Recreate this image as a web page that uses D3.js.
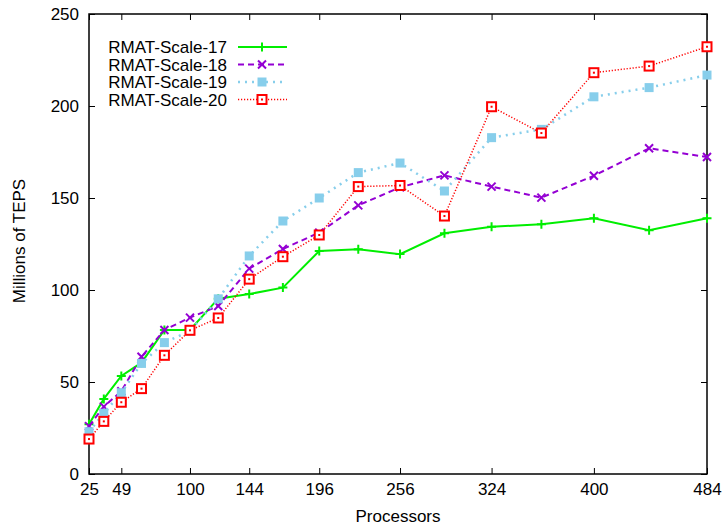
<!DOCTYPE html>
<html><head><meta charset="utf-8">
<script src="https://cdn.jsdelivr.net/npm/d3@7"></script>
<style>body{margin:0;background:#fff}text{font-family:"Liberation Sans",Arial,sans-serif}</style>
</head><body><svg id="c" width="723" height="527"></svg>
<script>
const processors = [25,36,49,64,81,100,121,144,169,196,225,256,289,324,361,400,441,484];
const xTicks = [25,49,100,144,196,256,324,400,484];
const yTicks = [0,50,100,150,200,250];
const seriesNames = ["RMAT-Scale-17","RMAT-Scale-18","RMAT-Scale-19","RMAT-Scale-20"];
const scale17 = [27,40.8,53.3,60.5,78.3,78.3,95.3,97.8,101.3,121.2,122.1,119.5,130.8,134.4,135.7,139,132.5,139];
const scale18 = [26,36.6,45,63.7,78.3,85,91.3,111.6,122.3,131.2,146,155.8,162.3,156.2,150.2,162.1,177,172.3];
const scale19 = [23,33,44.2,60.1,71.4,77.7,95.2,118.5,137.5,150,163.8,169,153.8,182.8,187.3,205,210,216.8];
const scale20 = [19,28.6,39,46.4,64.5,78.1,84.8,105.9,118.1,129.9,156.2,156.8,140.2,199.6,185.3,218.1,221.7,232.2];

const svg = d3.select("#c");
const L=89,R=707,T=14,B=474;
const FS = 17;
const x = d3.scaleLinear().domain([25,484]).range([L,R]);
const y = d3.scaleLinear().domain([0,250]).range([B,T]);

const styles = [
 {color:"#00ee00", dash:null, w:2, marker:"plus"},
 {color:"#9400d3", dash:"6,4", w:2, marker:"cross"},
 {color:"#87ceeb", dash:"2,5", w:2.5, marker:"fbox"},
 {color:"#ff0000", dash:"1.2,1.8", w:1.5, marker:"obox"}
];
const data = [scale17,scale18,scale19,scale20];

const g = svg.append("g");
g.append("g").attr("transform",`translate(0,${B})`)
 .call(d3.axisBottom(x).tickValues(xTicks).tickSize(-6).tickPadding(9).tickFormat(d3.format("d")));
g.append("g").attr("transform",`translate(0,${T})`)
 .call(d3.axisTop(x).tickValues(xTicks).tickSize(-6).tickFormat(""));
g.append("g").attr("transform",`translate(${L},0)`)
 .call(d3.axisLeft(y).tickValues(yTicks).tickSize(-6).tickPadding(10));
g.append("g").attr("transform",`translate(${R},0)`)
 .call(d3.axisRight(y).tickValues(yTicks).tickSize(-6).tickFormat(""));
g.selectAll(".domain").remove();
g.selectAll(".tick line").attr("stroke","#000").attr("stroke-width",1);
g.selectAll(".tick text").attr("font-size",FS).attr("fill","#000").style("font-family","Liberation Sans, Arial, sans-serif");
svg.append("rect").attr("x",L).attr("y",T).attr("width",R-L).attr("height",B-T)
 .attr("fill","none").attr("stroke","#000").attr("stroke-width",1.5);

svg.append("text").attr("x",(L+R)/2).attr("y",522).attr("text-anchor","middle").attr("font-size",FS).text("Processors");
svg.append("text").attr("transform","translate(25,241) rotate(-90)").attr("text-anchor","middle").attr("font-size",FS).text("Millions of TEPS");

function marker(sel, type, color){
  if(type==="plus"){
    sel.append("path").attr("d","M-4.5,0H4.5M0,-4.5V4.5").attr("stroke",color).attr("stroke-width",2).attr("fill","none");
  } else if(type==="cross"){
    sel.append("path").attr("d","M-4,-4L4,4M-4,4L4,-4").attr("stroke",color).attr("stroke-width",2).attr("fill","none");
  } else if(type==="fbox"){
    sel.append("rect").attr("x",-4.5).attr("y",-4.5).attr("width",9).attr("height",9).attr("fill",color);
  } else {
    sel.append("rect").attr("x",-4.5).attr("y",-4.5).attr("width",9).attr("height",9).attr("fill","#fff").attr("stroke",color).attr("stroke-width",2);
    sel.append("rect").attr("x",-1).attr("y",-1).attr("width",2).attr("height",2).attr("fill",color);
  }
}

const line = d3.line().x((d,i)=>x(processors[i])).y(d=>y(d));
data.forEach((vals,k)=>{
  const s = styles[k];
  svg.append("path").datum(vals).attr("d",line).attr("fill","none")
   .attr("stroke",s.color).attr("stroke-width",s.w).attr("stroke-dasharray",s.dash);
  vals.forEach((v,i)=>{
    marker(svg.append("g").attr("transform",`translate(${x(processors[i])},${y(v)})`), s.marker, s.color);
  });
});

seriesNames.forEach((name,k)=>{
  const s = styles[k];
  const yy = 47 + k*17.5;
  svg.append("text").attr("x",227).attr("y",yy+6).attr("text-anchor","end").attr("font-size",FS).attr("fill","#000").text(name);
  svg.append("line").attr("x1",238).attr("x2",287).attr("y1",yy).attr("y2",yy)
   .attr("stroke",s.color).attr("stroke-width",s.w).attr("stroke-dasharray",s.dash);
  marker(svg.append("g").attr("transform",`translate(262,${yy})`), s.marker, s.color);
});
</script></body></html>
